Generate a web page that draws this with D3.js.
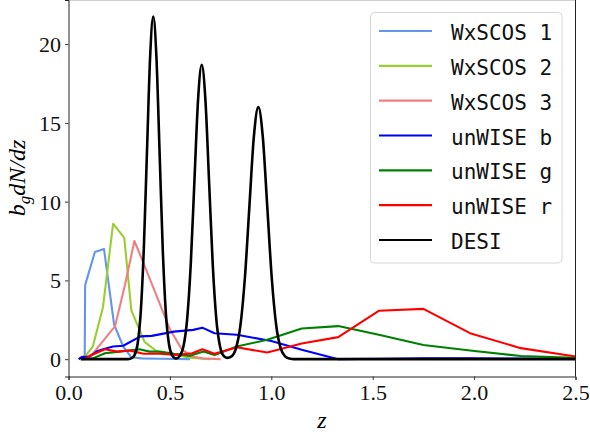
<!DOCTYPE html>
<html>
<head>
<meta charset="utf-8">
<script src="https://cdn.jsdelivr.net/npm/d3@7"></script>
<style>
  body { margin: 0; background: #fff; }
  svg { display: block; }
</style>
</head>
<body>
<div id="chart"></div>
<script>
// series names and colours, in drawing order
var names = ["WxSCOS 1", "WxSCOS 2", "WxSCOS 3", "unWISE b", "unWISE g", "unWISE r", "DESI"];
var colors = ["#6495ed", "#9acd32", "#f08080", "#0000ff", "#008000", "#ff0000", "#000000"];

// WxSCOS bins
var wx1Z = [0.05, 0.08, 0.082, 0.13, 0.175, 0.225, 0.27, 0.31, 0.36, 0.45, 0.6];
var wx1V = [0.0, 0.2, 4.7, 6.8, 7.0, 2.2, 0.8, 0.12, 0.05, 0.03, 0.0];
var wx2Z = [0.07, 0.12, 0.17, 0.22, 0.275, 0.31, 0.375, 0.435, 0.52, 0.6, 0.7];
var wx2V = [0.0, 0.8, 3.3, 8.6, 7.7, 3.1, 1.1, 0.5, 0.3, 0.1, 0.0];
var wx3Z = [0.07, 0.12, 0.18, 0.23, 0.28, 0.325, 0.37, 0.435, 0.5, 0.56, 0.61, 0.66, 0.75];
var wx3V = [0.0, 0.35, 1.3, 2.1, 4.8, 7.5, 6.1, 4.0, 1.9, 0.6, 0.17, 0.05, 0.0];

// unWISE samples
var ubZ = [0.05, 0.065, 0.105, 0.14, 0.175, 0.22, 0.27, 0.355, 0.41, 0.52, 0.615, 0.66, 0.72, 0.83, 1.0, 1.15, 1.33, 1.53, 1.75, 1.98, 2.23, 2.5];
var ubV = [0.0, 0.13, 0.17, 0.5, 0.65, 0.8, 0.85, 1.45, 1.48, 1.75, 1.86, 2.0, 1.65, 1.55, 1.15, 0.6, 0.0, 0.03, 0.05, 0.05, 0.04, 0.02];
var ugZ = [0.07, 0.12, 0.18, 0.25, 0.35, 0.4, 0.45, 0.52, 0.6, 0.665, 0.72, 0.83, 0.98, 1.15, 1.33, 1.53, 1.75, 1.98, 2.23, 2.5];
var ugV = [0.0, 0.05, 0.38, 0.48, 0.63, 0.48, 0.48, 0.34, 0.21, 0.48, 0.27, 0.8, 1.23, 1.95, 2.1, 1.55, 0.9, 0.55, 0.2, 0.08];
var urZ = [0.08, 0.12, 0.18, 0.24, 0.3, 0.37, 0.45, 0.53, 0.61, 0.66, 0.72, 0.83, 0.98, 1.15, 1.33, 1.53, 1.75, 1.98, 2.23, 2.5];
var urV = [0.0, 0.3, 0.63, 0.48, 0.55, 0.34, 0.34, 0.27, 0.38, 0.63, 0.34, 0.76, 0.42, 1.0, 1.4, 3.07, 3.19, 1.65, 0.7, 0.17];

// DESI tracer samples (three peaks)
var desiZ = [0.06, 0.29, 0.3095, 0.325, 0.3405, 0.356, 0.3715, 0.387, 0.4025, 0.418, 0.4335, 0.449, 0.4645, 0.48, 0.4955, 0.511, 0.5265,
             0.531, 0.549, 0.567, 0.585, 0.603, 0.621, 0.639, 0.657, 0.675, 0.693, 0.711, 0.729, 0.747, 0.765, 0.783,
             0.804, 0.826, 0.848, 0.870, 0.892, 0.914, 0.936, 0.958, 0.980, 1.002, 1.024, 1.046, 1.068, 1.090, 1.112, 1.2, 2.5];
var desiV = [0.0, 0.0, 0.05, 0.24, 0.95, 2.94, 7.06, 13.19, 19.19, 21.75, 19.19, 13.19, 7.06, 2.94, 0.95, 0.24, 0.05,
             0.04, 0.21, 0.82, 2.53, 6.07, 11.34, 16.49, 18.69, 16.49, 11.34, 6.07, 2.53, 0.82, 0.21, 0.08,
             0.18, 0.70, 2.17, 5.20, 9.70, 14.12, 16.0, 14.12, 9.70, 5.20, 2.17, 0.70, 0.18, 0.04, 0.0, 0.0, 0.0];

var xTicks = [0, 0.5, 1.0, 1.5, 2.0, 2.5];
var yTicks = [0, 5, 10, 15, 20];

var allZ = [wx1Z, wx2Z, wx3Z, ubZ, ugZ, urZ, desiZ];
var allV = [wx1V, wx2V, wx3V, ubV, ugV, urV, desiV];

var width = 590, height = 436;
// plot box (note: "top" is reserved on window, so use an object)
var box = {left: 68.5, right: 575.5, top: 0, bottom: 376.5};

var svg = d3.select("#chart").append("svg")
    .attr("width", width)
    .attr("height", height);

var x = d3.scaleLinear().domain([0, 2.5]).range([box.left, box.right]);
var y = d3.scaleLinear().domain([-1.1, 22.8]).range([box.bottom, box.top]);

svg.append("defs").append("clipPath").attr("id", "clip")
    .append("rect")
    .attr("x", box.left).attr("y", box.top)
    .attr("width", box.right - box.left).attr("height", box.bottom - box.top);

var series = names.map(function (n, i) {
    return {
        name: n,
        color: colors[i],
        pts: allZ[i].map(function (z, j) { return [z, allV[i][j]]; })
    };
});

var lineLin = d3.line()
    .x(function (d) { return x(d[0]); })
    .y(function (d) { return y(d[1]); });

var lineSmooth = d3.line()
    .curve(d3.curveMonotoneX)
    .x(function (d) { return x(d[0]); })
    .y(function (d) { return y(d[1]); });

var plot = svg.append("g").attr("clip-path", "url(#clip)");

plot.selectAll("path.series")
    .data(series)
    .enter().append("path")
    .attr("class", "series")
    .attr("fill", "none")
    .attr("stroke", function (d) { return d.color; })
    .attr("stroke-width", function (d) { return d.name == "DESI" ? 2.6 : 2.1; })
    .attr("stroke-linejoin", "round")
    .attr("d", function (d) { return d.name == "DESI" ? lineSmooth(d.pts) : lineLin(d.pts); });

// frame
svg.append("line").attr("x1", box.left).attr("x2", box.right).attr("y1", 0.5).attr("y2", 0.5)
    .attr("stroke", "#d0d0d0").attr("stroke-width", 1);
svg.append("line").attr("x1", box.right).attr("x2", box.right).attr("y1", 0).attr("y2", box.bottom)
    .attr("stroke", "#222").attr("stroke-width", 1);

// axes
var fontTick = "'Liberation Serif', 'DejaVu Serif', serif";

var xAxis = svg.append("g")
    .attr("transform", "translate(0," + box.bottom + ")")
    .call(d3.axisBottom(x).tickValues(xTicks).tickSize(3.5).tickPadding(4)
        .tickFormat(d3.format(".1f")));
var yAxis = svg.append("g")
    .attr("transform", "translate(" + box.left + ",0)")
    .call(d3.axisLeft(y).tickValues(yTicks).tickSize(3.5).tickPadding(4)
        .tickFormat(d3.format("d")));

[xAxis, yAxis].forEach(function (ax) {
    ax.select(".domain").attr("stroke", "#222").attr("stroke-width", 1);
    ax.selectAll(".tick line").attr("stroke", "#222").attr("stroke-width", 0.9);
    ax.selectAll(".tick text")
        .attr("fill", "#111")
        .style("font-family", fontTick)
        .style("font-size", "22px");
});
yAxis.selectAll(".tick text").attr("dy", "0.34em");

// axis labels
svg.append("text")
    .attr("x", (box.left + box.right) / 2)
    .attr("y", 428)
    .attr("text-anchor", "middle")
    .style("font-family", fontTick)
    .style("font-style", "italic")
    .style("font-size", "24px")
    .text("z");

var yl = svg.append("text")
    .attr("transform", "translate(25," + 178 + ") rotate(-90)")
    .attr("text-anchor", "middle")
    .style("font-family", fontTick)
    .style("font-style", "italic")
    .style("font-size", "24px");
yl.append("tspan").text("b");
yl.append("tspan").attr("dy", 5).style("font-size", "17px").text("g");
yl.append("tspan").attr("dy", -5).text("dN/dz");

// legend
var leg = svg.append("g");
leg.append("rect")
    .attr("x", 370.5).attr("y", 12.5)
    .attr("width", 191.5).attr("height", 250.5)
    .attr("rx", 4)
    .attr("fill", "#fff").attr("fill-opacity", 0.85)
    .attr("stroke", "#d6d6d6").attr("stroke-width", 1);

var rowY = d3.scaleLinear().domain([0, names.length - 1]).range([31, 240]);

var rows = leg.selectAll("g.row")
    .data(series)
    .enter().append("g")
    .attr("class", "row")
    .attr("transform", function (d, i) { return "translate(0," + rowY(i) + ")"; });

rows.append("line")
    .attr("x1", 379).attr("x2", 432)
    .attr("stroke", function (d) { return d.color; })
    .attr("stroke-width", 2.1);

rows.append("text")
    .attr("x", 451)
    .attr("y", 9)
    .style("font-family", "'DejaVu Sans Mono', 'Liberation Mono', monospace")
    .style("font-size", "21px")
    .attr("fill", "#111")
    .text(function (d) { return d.name; });
</script>
</body>
</html>
